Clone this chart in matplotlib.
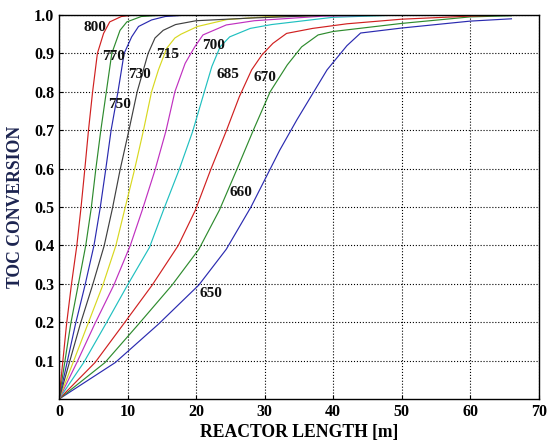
import matplotlib
matplotlib.use('Agg')
from matplotlib import pyplot as plt
import numpy as np

# temperatures of each curve and its (length, conversion) points
temps = ['650', '660', '670', '685', '700', '715', '730', '750', '770', '800']

x650 = [0, 8.2, 14.5, 20.4, 24.4, 28.0, 32.2, 34.7, 39.1, 42.0, 44.0, 50, 60, 66]
y650 = [0, 0.095, 0.195, 0.297, 0.39, 0.50, 0.648, 0.727, 0.857, 0.92, 0.953, 0.966, 0.984, 0.99]

x660 = [0, 6.7, 11.6, 16.5, 20.4, 23.4, 25.9, 28.3, 30.8, 33.3, 35.4, 37.8, 40, 50, 60, 66]
y660 = [0, 0.095, 0.195, 0.297, 0.39, 0.492, 0.596, 0.698, 0.80, 0.87, 0.917, 0.948, 0.957, 0.978, 0.995, 0.998]

x670 = [0, 5.25, 9.4, 13.6, 17.4, 19.9, 22.1, 24.4, 26.3, 28.1, 29.6, 31.2, 33.2, 37, 42, 50, 60, 66]
y670 = [0, 0.095, 0.195, 0.297, 0.40, 0.492, 0.596, 0.698, 0.787, 0.857, 0.896, 0.926, 0.952, 0.965, 0.977, 0.989, 0.997, 1.0]

x685 = [0, 3.6, 6.8, 10.0, 13.2, 15.3, 17.5, 19.5, 21.2, 22.3, 23.5, 24.9, 27.9, 31, 40, 50, 66]
y685 = [0, 0.095, 0.195, 0.297, 0.395, 0.495, 0.596, 0.697, 0.80, 0.866, 0.917, 0.943, 0.965, 0.975, 0.994, 1.0, 1.0]

x700 = [0, 2.6, 5.2, 8.0, 10.4, 12.2, 14.0, 15.6, 16.9, 18.4, 19.8, 21.0, 24.4, 28.5, 38.5, 50, 66]
y700 = [0, 0.095, 0.195, 0.297, 0.40, 0.495, 0.596, 0.698, 0.80, 0.874, 0.917, 0.948, 0.974, 0.985, 0.997, 1.0, 1.0]

x715 = [0, 4.2, 6.4, 8.3, 9.6, 11.0, 12.3, 13.5, 14.5, 15.7, 16.9, 17.8, 20.2, 24.5, 30, 40, 66]
y715 = [0, 0.195, 0.297, 0.40, 0.495, 0.596, 0.698, 0.80, 0.857, 0.913, 0.94, 0.95, 0.97, 0.988, 0.995, 1.0, 1.0]

x730 = [0, 3.1, 4.9, 6.6, 7.8, 8.9, 10.2, 11.4, 13.0, 14.0, 15.2, 17, 20, 28, 40, 66]
y730 = [0, 0.195, 0.297, 0.40, 0.497, 0.596, 0.70, 0.80, 0.90, 0.94, 0.96, 0.975, 0.985, 0.992, 1.0, 1.0]

x750 = [0, 2.4, 3.8, 5.1, 6.0, 6.8, 7.6, 8.6, 9.5, 10.6, 11.6, 13.5, 15.5, 18.8, 66]
y750 = [0, 0.195, 0.297, 0.40, 0.497, 0.596, 0.70, 0.80, 0.90, 0.943, 0.97, 0.987, 0.996, 1.0, 1.0]

x770 = [0, 1.7, 2.8, 3.9, 4.7, 5.35, 6.1, 6.9, 7.7, 8.9, 9.9, 12.0, 15.5, 66]
y770 = [0, 0.195, 0.297, 0.40, 0.497, 0.596, 0.70, 0.80, 0.90, 0.96, 0.982, 0.996, 1.0, 1.0]

x800 = [0, 1.1, 1.8, 2.6, 3.2, 3.75, 4.3, 4.9, 5.6, 6.5, 7.4, 9.1, 11, 66]
y800 = [0, 0.195, 0.297, 0.40, 0.497, 0.596, 0.70, 0.80, 0.90, 0.952, 0.982, 0.996, 1.0, 1.0]

xs = [x650, x660, x670, x685, x700, x715, x730, x750, x770, x800]
ys = [y650, y660, y670, y685, y700, y715, y730, y750, y770, y800]

# label positions (data coords)
lab_x = [22.2, 26.5, 30.0, 24.7, 22.5, 15.8, 11.8, 8.9, 7.9, 5.3]
lab_y = [0.275, 0.537, 0.838, 0.846, 0.92, 0.896, 0.846, 0.766, 0.891, 0.968]

xticks = [0, 10, 20, 30, 40, 50, 60, 70]
yticks = [0.1, 0.2, 0.3, 0.4, 0.5, 0.6, 0.7, 0.8, 0.9, 1.0]

# matlab-like colour order b g r c m y k
colors = ['#2a2ab0', '#2e8b2e', '#d02020', '#20c0c0', '#c030c0',
          '#d8d820', '#404040', '#2a2ab0', '#2e8b2e', '#d02020']

plt.rcParams['font.family'] = ['Liberation Serif', 'DejaVu Serif']
plt.rcParams['font.weight'] = 'bold'

fig = plt.figure(figsize=(5.49, 4.40), dpi=100)
ax = fig.add_axes([0.1075, 0.093, 0.874, 0.873])

for x, y, c in zip(xs, ys, colors):
    ax.plot(x, y, color=c, lw=0.85)

for t, lx, ly in zip(temps, lab_x, lab_y):
    ax.text(lx, ly, t, ha='center', va='center', fontsize=11,
            fontweight='bold', color='#111111')

ax.set_xlim(0, 70)
ax.set_ylim(0, 1)
ax.set_xticks(xticks)
ax.set_yticks(yticks)
ax.set_xticklabels([str(v) for v in xticks])
ax.set_yticklabels(['%.1f' % v for v in yticks])
ax.tick_params(direction='in', length=3, labelsize=11.5, width=0.8)
ax.grid(True, linestyle=':', color='black', lw=0.8)
for s in ax.spines.values():
    s.set_linewidth(1.0)

ax.set_xlabel('REACTOR LENGTH [m]', fontsize=12.7, fontweight='bold', labelpad=3)
ax.set_ylabel('TOC CONVERSION', fontsize=12.7, fontweight='bold', color='#1c2450', labelpad=7)

plt.savefig('out.png', dpi=100)
